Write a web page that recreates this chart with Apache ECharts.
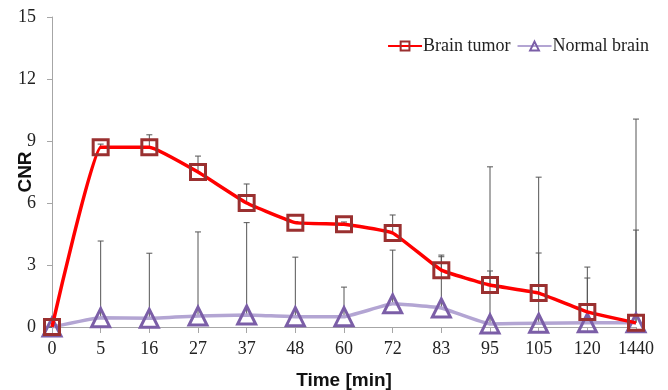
<!DOCTYPE html>
<html>
<head>
<meta charset="utf-8">
<script src="https://cdn.jsdelivr.net/npm/echarts@6/dist/echarts.min.js"></script>
<style>
  html, body { margin: 0; padding: 0; background: #fff; }
  #chart { width: 668px; height: 390px; }
</style>
</head>
<body>
<div id="chart"></div>
<script>
// time points (min)
const times = ['0', '5', '16', '27', '37', '48', '60', '72', '83', '95', '105', '120', '1440'];

// CNR means
const tumor = [0, 8.7, 8.7, 7.5, 6.0, 5.05, 4.97, 4.55, 2.75, 2.03, 1.64, 0.73, 0.2];
const normal = [0, 0.45, 0.42, 0.53, 0.58, 0.5, 0.5, 1.12, 0.92, 0.15, 0.18, 0.2, 0.2];

// upper end of the error bars
const tumorUpper = [0, 8.85, 9.3, 8.27, 6.92, 5.1, 5.08, 5.42, 3.48, 2.71, 3.58, 2.9, 4.69];
const normalUpper = [0, 4.16, 3.57, 4.6, 5.05, 3.38, 1.93, 3.72, 3.4, 7.75, 7.25, 2.37, 10.06];

const yTicks = { min: 0, max: 15, interval: 3 };

const serif = '"Liberation Serif", "DejaVu Serif", serif';
const sans = '"Liberation Sans", Arial, sans-serif';

function errorSeries(name, means, uppers) {
    return {
        name: name + ' err',
        type: 'custom',
        z: 1,
        silent: true,
        data: means.map((m, i) => [i, m, uppers[i]]),
        renderItem: function (params, api) {
            const lo = api.coord([api.value(0), api.value(1)]);
            const hi = api.coord([api.value(0), api.value(2)]);
            const half = 3;
            const style = { stroke: '#555', lineWidth: 1 };
            return {
                type: 'group',
                children: [
                    { type: 'line', shape: { x1: lo[0], y1: lo[1], x2: hi[0], y2: hi[1] }, style: style },
                    { type: 'line', shape: { x1: hi[0] - half, y1: hi[1], x2: hi[0] + half, y2: hi[1] }, style: style }
                ]
            };
        }
    };
}

const chart = echarts.init(document.getElementById('chart'));
chart.setOption({
    animation: false,
    grid: { left: 52, right: 32, top: 17, bottom: 63, containLabel: false, outerBoundsMode: 'none' },
    legend: {
        top: 32,
        right: 14,
        itemWidth: 34,
        itemHeight: 11,
        itemGap: 6,
        data: ['Brain tumor', 'Normal brain'],
        textStyle: { fontFamily: serif, fontSize: 18, color: '#222', padding: [0, 0, 0, -4] }
    },
    xAxis: {
        type: 'category',
        data: times,
        boundaryGap: false,
        name: 'Time [min]',
        nameLocation: 'middle',
        nameGap: 44,
        nameMoveOverlap: false,
        nameTextStyle: { fontFamily: sans, fontWeight: 'bold', fontSize: 19, color: '#111' },
        axisLine: { lineStyle: { color: '#a6a6a6', width: 1 } },
        axisTick: { show: true, length: 6, lineStyle: { color: '#a6a6a6' } },
        axisLabel: { fontFamily: serif, fontSize: 18, color: '#222', margin: 13 },
        splitLine: { show: false }
    },
    yAxis: {
        type: 'value',
        min: yTicks.min,
        max: yTicks.max,
        interval: yTicks.interval,
        name: 'CNR',
        nameLocation: 'middle',
        nameGap: 17,
        nameMoveOverlap: false,
        nameTextStyle: { fontFamily: sans, fontWeight: 'bold', fontSize: 19, color: '#111' },
        axisLine: { show: true, lineStyle: { color: '#a6a6a6', width: 1 } },
        axisTick: { show: true, length: 5, lineStyle: { color: '#a6a6a6' } },
        axisLabel: { fontFamily: serif, fontSize: 18, color: '#222', margin: 16 },
        splitLine: { show: false }
    },
    series: [
        errorSeries('Normal brain', normal, normalUpper),
        errorSeries('Brain tumor', tumor, tumorUpper),
        {
            name: 'Normal brain',
            type: 'line',
            z: 2,
            data: normal,
            smooth: 0.1,
            symbol: 'triangle',
            symbolSize: 18,
            lineStyle: { color: '#b3a5d3', width: 3.5 },
            itemStyle: { color: 'rgba(255,255,255,0)', borderColor: '#7b5ea7', borderWidth: 3 }
        },
        {
            name: 'Brain tumor',
            type: 'line',
            z: 3,
            data: tumor,
            smooth: 0.1,
            symbol: 'rect',
            symbolSize: 15,
            lineStyle: { color: '#ff0000', width: 3.5 },
            itemStyle: { color: 'rgba(255,255,255,0)', borderColor: '#9a3030', borderWidth: 3 }
        }
    ]
});
</script>
</body>
</html>
